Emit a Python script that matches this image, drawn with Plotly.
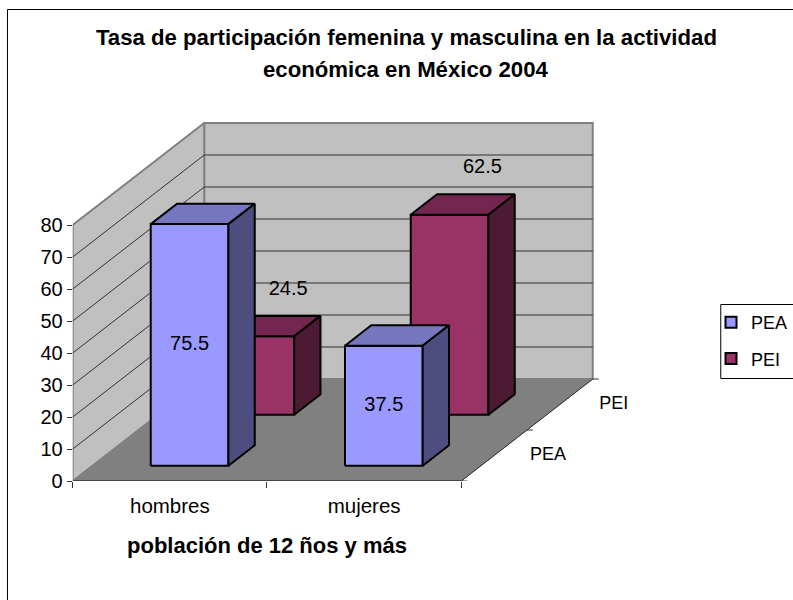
import plotly.graph_objects as go

# ---- data ----
categories = ["hombres", "mujeres"]
series_names = ["PEA", "PEI"]
pea_values = [75.5, 37.5]
pei_values = [24.5, 62.5]
y_ticks = [0, 10, 20, 30, 40, 50, 60, 70, 80]
title_line1 = "Tasa de participación femenina y masculina en la actividad"
title_line2 = "económica en México 2004"
x_note = "población de 12 ños y más"

# ---- page geometry / styling ----
W, H = 793, 600
X0, Y0 = 73, 481            # pixel of the front-left floor corner
CAT_PX = 195                # px per category
VAL_PX = 3.2                # px per value unit
SLOT_DX, SLOT_DY = 66, 51   # oblique shift per series slot
X_RIGHT, Y_TOP = 660, 115   # extent of the plot axes on the page
GAP = 0.3                   # bar inset in a slot (gap width 150%)
WALL, FLOOR = "#C0C0C0", "#808080"
FONT = "Liberation Sans"
COLORS = {
    "PEA": ("#9999FF", "#7777BF", "#4D4D80"),
    "PEI": ("#993366", "#732650", "#4D1A33"),
}

def proj(cat, val, depth):
    """oblique projection of (category pos, value, series depth) on the 2D axes"""
    return cat + depth * SLOT_DX / CAT_PX, val + depth * SLOT_DY / VAL_PX

fig = go.Figure()

def poly(points, fill=None, line="black", width=1):
    xs, ys = zip(*[proj(*p) for p in points])
    fig.add_trace(go.Scatter(
        x=list(xs) + [xs[0]] if fill else list(xs),
        y=list(ys) + [ys[0]] if fill else list(ys),
        mode="lines", fill="toself" if fill else None, fillcolor=fill,
        line=dict(color=line, width=width), hoverinfo="skip", showlegend=False,
    ))

n_cat, n_ser = len(categories), len(series_names)
top = y_ticks[-1]

# walls and floor
poly([(0, 0, n_ser), (n_cat, 0, n_ser), (n_cat, top, n_ser), (0, top, n_ser)], WALL, "#808080", 2)
poly([(0, 0, 0), (0, 0, n_ser), (0, top, n_ser), (0, top, 0)], WALL, "#808080", 2)
poly([(0, 0, 0), (n_cat, 0, 0), (n_cat, 0, n_ser), (0, 0, n_ser)], FLOOR, FLOOR, 1)

# gridlines
for v in y_ticks[1:-1]:
    poly([(0, v, 0), (0, v, n_ser), (n_cat, v, n_ser)], None, "#303030", 1)

# floor edges and depth-axis ticks
poly([(0, 0, 0), (n_cat, 0, 0)], None, "#333333", 1.5)
poly([(n_cat, 0, 0), (n_cat, 0, n_ser)], None, "#333333", 1)
for d in range(n_ser + 1):
    a = proj(n_cat, 0, d)
    fig.add_trace(go.Scatter(x=[a[0], a[0] + 6 / CAT_PX], y=[a[1], a[1]], mode="lines",
                             line=dict(color="#333333", width=1), hoverinfo="skip", showlegend=False))

# bars, back to front
def bar(i, s, value, name):
    front, tp, side = COLORS[name]
    c0, c1 = i + GAP, i + 1 - GAP
    d0, d1 = s + GAP, s + 1 - GAP
    poly([(c0, 0, d0), (c1, 0, d0), (c1, value, d0), (c0, value, d0)], front, "black", 2)
    poly([(c0, value, d0), (c1, value, d0), (c1, value, d1), (c0, value, d1)], tp, "black", 2)
    poly([(c1, 0, d0), (c1, 0, d1), (c1, value, d1), (c1, value, d0)], side, "black", 2)

for s, (name, vals) in reversed(list(enumerate(zip(series_names, [pea_values, pei_values])))):
    for i, v in enumerate(vals):
        bar(i, s, v, name)

# data labels
def text_trace(pts, labels, size=20):
    fig.add_trace(go.Scatter(
        x=[p[0] for p in pts], y=[p[1] for p in pts], text=labels, mode="text",
        textposition="middle center", cliponaxis=False,
        textfont=dict(family=FONT, size=size, color="black"),
        hoverinfo="skip", showlegend=False,
    ))

pea_pts = [proj(i + 0.5, v / 2, GAP) for i, v in enumerate(pea_values)]
pei_pts = [(lambda p: (p[0], p[1] + 6.6))(proj(i + 0.5, v, 1 + GAP + 0.5)) for i, v in enumerate(pei_values)]
text_trace(pea_pts, [f"{v}" for v in pea_values])
text_trace(pei_pts, [f"{v}" for v in pei_values])

# depth-axis labels
depth_pts = [proj(n_cat, 0, d + 0.5) for d in range(n_ser)]
depth_pts = [(p[0] + 54 / CAT_PX, p[1] + 0 / VAL_PX) for p in depth_pts]
text_trace(depth_pts, series_names, size=18)

# legend entries
for name in series_names:
    fig.add_trace(go.Scatter(
        x=[None], y=[None], mode="markers", name=name, legendgroup=name,
        marker=dict(symbol="square", size=11, color=COLORS[name][0], line=dict(color="black", width=2)),
    ))

fig.update_layout(
    width=W, height=H, autosize=False,
    margin=dict(l=0, r=0, t=0, b=0),
    paper_bgcolor="white", plot_bgcolor="rgba(0,0,0,0)",
    font=dict(family=FONT, size=20, color="black"),
    title=dict(text=title_line1, x=408 / W, xanchor="center", xref="paper", y=(H - 37) / H, yref="paper", yanchor="middle",
               font=dict(family=FONT, size=22.2, color="black", weight="bold")),
    xaxis=dict(
        automargin=False,
        domain=[X0 / W, X_RIGHT / W], range=[0, (X_RIGHT - X0) / CAT_PX],
        tickmode="array", tickvals=[i + 0.5 for i in range(n_cat)], ticktext=categories,
        ticks="", showline=False, showgrid=False, zeroline=False, ticklabelstandoff=10,
        minor=dict(tickmode="array", tickvals=list(range(n_cat + 1)), ticks="outside", ticklen=6,
                   tickcolor="#333333", showgrid=False),
        tickfont=dict(family=FONT, size=20.5),
    ),
    yaxis=dict(
        automargin=False,
        domain=[(H - Y0) / H, (H - Y_TOP) / H], range=[0, (Y0 - Y_TOP) / VAL_PX],
        tickmode="array", tickvals=y_ticks, ticks="outside", ticklen=5, tickcolor="#333333",
        showline=False, showgrid=False, zeroline=False, tickfont=dict(family=FONT, size=20),
    ),
    legend=dict(x=714 / W, y=(H - 304) / H, xanchor="left", yanchor="top", borderwidth=0,
                bgcolor="rgba(0,0,0,0)", font=dict(family=FONT, size=18), itemwidth=30, tracegroupgap=10),
    shapes=[
        dict(type="rect", xref="paper", yref="paper", x0=7.5 / W, x1=1.01, y0=-0.02, y1=(H - 9.5) / H,
             line=dict(color="black", width=1), fillcolor="rgba(0,0,0,0)", layer="below"),
        dict(type="rect", xref="paper", yref="paper", x0=723.5 / W, x1=1.01, y0=(H - 378.5) / H, y1=(H - 304.5) / H,
             line=dict(color="black", width=1), fillcolor="white", layer="below"),
    ],
    annotations=[
        dict(text=title_line2, xref="paper", yref="paper", x=408 / W, y=(H - 69) / H, showarrow=False,
             xanchor="center", yanchor="middle", font=dict(family=FONT, size=22.2, color="black", weight="bold")),
        dict(text=x_note, xref="paper", yref="paper", x=268.5 / W, y=(H - 545) / H, showarrow=False,
             xanchor="center", yanchor="middle", font=dict(family=FONT, size=22, color="black", weight="bold")),
    ],
)
fig.write_html("out.html", default_width="793px", default_height="600px",
               config={"displayModeBar": False},
               post_script="document.body.style.margin='0';document.documentElement.style.overflow='hidden';")
